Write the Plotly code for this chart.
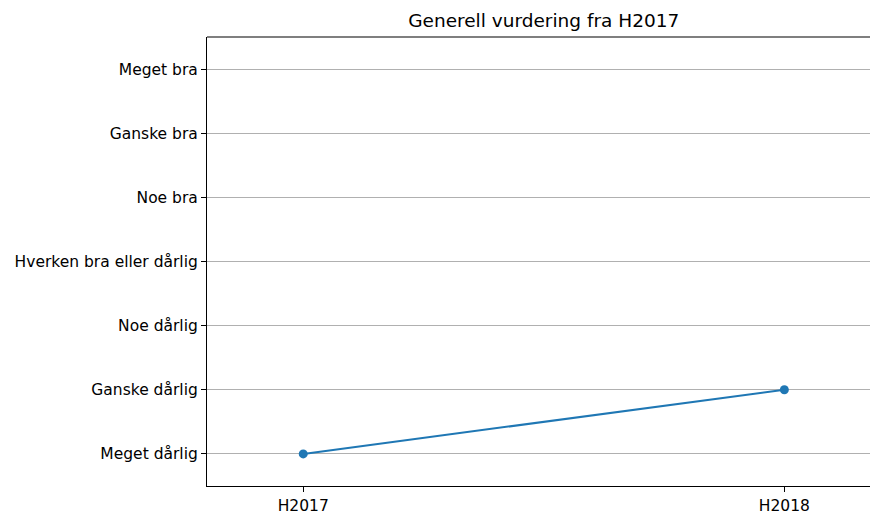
"""
Generell vurdering fra H2017
"""

import plotly.graph_objects as go

FONT = "DejaVu Sans"

levels = [
    "Meget dårlig", "Ganske dårlig", "Noe dårlig",
    "Hverken bra eller dårlig", "Noe bra", "Ganske bra", "Meget bra",
]
semesters = ["H2017", "H2018"]
ratings = ["Meget dårlig", "Ganske dårlig"]

fig = go.Figure(go.Scatter(
    x=semesters,
    y=ratings,
    mode="lines+markers",
    line=dict(color="#1f77b4", width=2),
    marker=dict(color="#1f77b4", size=9),
    showlegend=False,
))

fig.update_layout(
    width=870,
    height=511,
    margin=dict(l=207, r=0, t=37, b=25),
    plot_bgcolor="white",
    paper_bgcolor="white",
    font=dict(family=FONT, size=15.5, color="black"),
    title=dict(text="Generell vurdering fra H2017", x=0.625, xanchor="center",
               y=0.959, yanchor="middle", font=dict(size=18.5, family=FONT)),
    xaxis=dict(
        type="category", categoryarray=semesters, range=[-0.2, 1.178],
        automargin=False,
        showgrid=False, zeroline=False, showline=True, linecolor="black",
        linewidth=1.2, mirror=False, ticks="outside", ticklen=5,
        tickcolor="black", tickfont=dict(size=15.5),
    ),
    yaxis=dict(
        type="category", categoryarray=levels, range=[-0.5, 6.5],
        automargin=False,
        showgrid=True, gridcolor="#b0b0b0", gridwidth=1, zeroline=False,
        showline=True, linecolor="black", linewidth=1.2,
        ticks="outside", ticklen=5, tickcolor="black", tickfont=dict(size=15.5),
    ),
    shapes=[dict(type="line", xref="paper", yref="paper", x0=0, x1=1, y0=1, y1=1,
                 line=dict(color="black", width=1.2))],
)

# page body has a default 8px margin; drop it so the figure fills the window
fig.write_html("out.html", config={"displayModeBar": False},
               post_script="document.body.style.margin='0';")
